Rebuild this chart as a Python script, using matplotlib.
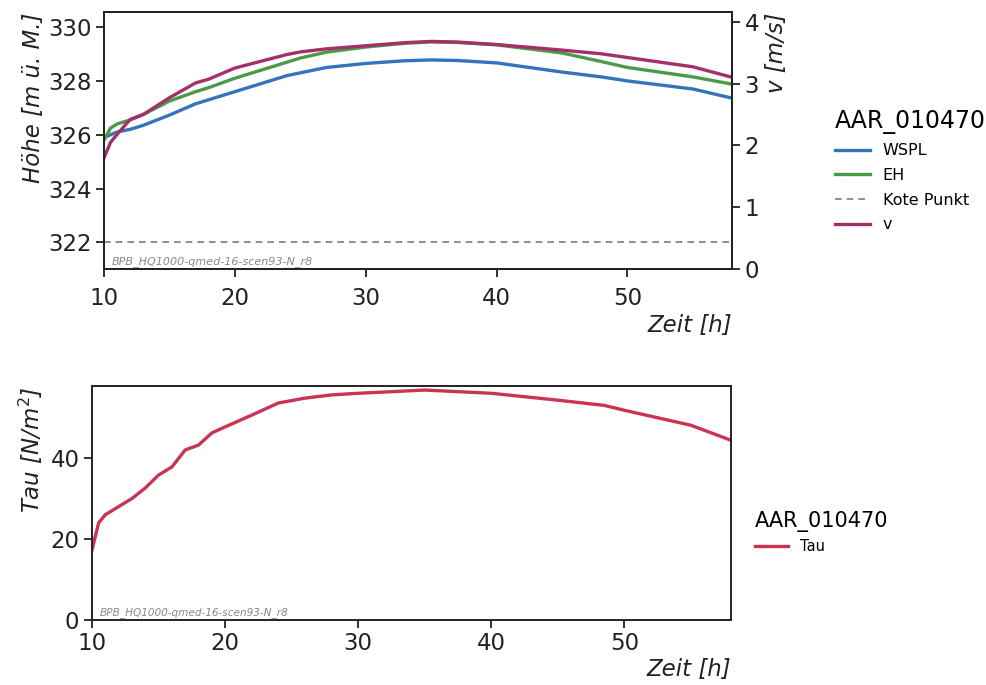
import numpy as np
import matplotlib.pyplot as plt

# hours
t_top = [10, 10.5, 11, 12, 13, 15, 17, 18, 20, 22, 24, 25, 27, 30, 33, 35, 37, 40, 45, 48, 50, 55, 58]
wspl = [325.9, 326.0, 326.1, 326.2, 326.35, 326.73, 327.15, 327.3, 327.6, 327.9, 328.2, 328.3, 328.5,
        328.65, 328.75, 328.78, 328.76, 328.67, 328.33, 328.15, 328.0, 327.7, 327.36]
eh = [325.8, 326.25, 326.4, 326.55, 326.75, 327.25, 327.6, 327.75, 328.1, 328.4, 328.7, 328.85, 329.07,
      329.26, 329.4, 329.45, 329.43, 329.34, 329.04, 328.72, 328.5, 328.15, 327.88]
v = [1.8, 2.05, 2.18, 2.42, 2.5, 2.77, 3.01, 3.07, 3.25, 3.36, 3.47, 3.51, 3.56,
     3.61, 3.66, 3.68, 3.67, 3.63, 3.54, 3.48, 3.42, 3.27, 3.1]
kote = [322.0] * len(t_top)

t_tau = [10, 10.5, 11, 12, 13, 14, 15, 16, 17, 18, 19, 20, 22, 24, 26, 28, 30, 35, 40, 45, 48.5, 50, 55, 58]
tau = [17.3, 24, 26, 28, 30, 32.6, 35.8, 37.8, 42, 43.2, 46.2, 47.7, 50.6, 53.6, 54.8, 55.6, 56.0,
       56.8, 56.0, 54.3, 53.0, 51.8, 48.1, 44.4]

station = 'AAR_010470'
run_name = 'BPB_HQ1000-qmed-16-scen93-N_r8'

c_wspl = '#3474bd'
c_eh = '#4b9a47'
c_kote = '#6f7c9c'
c_v = '#a3306b'
c_tau = '#c83452'
dark = '#222222'
fs = 16.5


def _format_axes(ax, pad=3):
    ax.tick_params(which='major', direction='out', length=6, width=1.3, labelsize=fs,
                   colors=dark, pad=pad)
    for s in ax.spines.values():
        s.set_linewidth(1.4)
        s.set_color(dark)


fig = plt.figure(figsize=(9.86, 6.85), dpi=100)

# top: water level / energy height / velocity
ax1 = fig.add_axes([0.1055, 0.607, 0.637, 0.375])
l1, = ax1.plot(t_top, wspl, color=c_wspl, lw=2.4, label='WSPL')
l2, = ax1.plot(t_top, eh, color=c_eh, lw=2.4, label='EH')
l3, = ax1.plot(t_top, kote, color=c_kote, lw=1.2, ls=(0, (4, 3)), label='Kote Punkt')
ax1.set_xlim(10, 58)
ax1.set_ylim(321.0, 330.55)
ax1.set_yticks([322, 324, 326, 328, 330])
ax1.set_xticks([10, 20, 30, 40, 50])
ax1.set_ylabel('Höhe [m ü. M.]', fontsize=fs, style='italic', color=dark, labelpad=2, loc='top')
ax1.set_xlabel('Zeit [h]', fontsize=fs, style='italic', color=dark, loc='right', labelpad=3)
ax1.text(0.012, 0.02, run_name, transform=ax1.transAxes, fontsize=8, style='italic',
         color='#888888')
_format_axes(ax1)
ax1.tick_params(axis='x', pad=7)

ax2 = ax1.twinx()
l4, = ax2.plot(t_top, v, color=c_v, lw=2.4, label='v')
ax2.set_ylim(0, 4.15)
ax2.set_yticks([0, 1, 2, 3, 4])
ax2.set_ylabel('v [m/s]', fontsize=fs, style='italic', color=dark, labelpad=4, loc='top')
_format_axes(ax2)

fig.legend(handles=[l1, l2, l3, l4], title=station, loc='upper left',
           bbox_to_anchor=(0.832, 0.862), frameon=False, fontsize=11.5,
           title_fontsize=17, handlelength=2.2, handletextpad=0.8, labelspacing=0.6,
           alignment='left')

# bottom: shear stress
ax3 = fig.add_axes([0.0933, 0.0949, 0.648, 0.3416])
l5, = ax3.plot(t_tau, tau, color=c_tau, lw=2.4, label='Tau')
ax3.set_xlim(10, 58)
ax3.set_ylim(0, 57.8)
ax3.set_yticks([0, 20, 40])
ax3.set_xticks([10, 20, 30, 40, 50])
ax3.set_ylabel(r'Tau [N/m$^2$]', fontsize=fs, style='italic', color=dark, labelpad=4, loc='top')
ax3.set_xlabel('Zeit [h]', fontsize=fs, style='italic', color=dark, loc='right', labelpad=2)
ax3.text(0.012, 0.02, run_name, transform=ax3.transAxes, fontsize=7.6, style='italic',
         color='#888888')
_format_axes(ax3)

fig.legend(handles=[l5], title=station, loc='upper left',
           bbox_to_anchor=(0.752, 0.273), frameon=False, fontsize=10.5,
           title_fontsize=15, handlelength=2.3, alignment='left')

fig.savefig('out.png', dpi=100, facecolor='white')
